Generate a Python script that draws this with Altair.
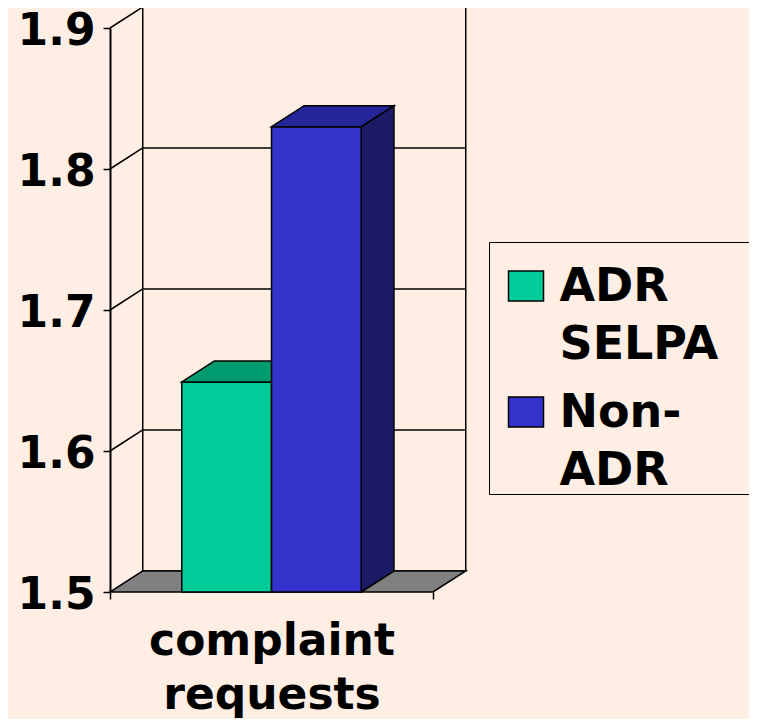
import altair as alt
import pandas as pd

# ---- data ----
categories = ["complaint requests"]
series = ["ADR SELPA", "Non-ADR"]
values = [1.649, 1.830]
y_ticks = [1.5, 1.6, 1.7, 1.8, 1.9]

# ---- styles ----
front_colors = ["#00CC99", "#3333CC"]
top_colors = ["#009B6E", "#25259A"]
side_colors = ["#007A58", "#1C1C66"]
floor_color = "#808080"
bg = "#FFEEE4"
FONT = "DejaVu Sans"

# ---- 3D geometry (in scale units) ----
Y_MIN, Y_MAX = 1.5, 1.9
GAP = 0.8          # gap each side of the bar group, in bar widths
BAR = 1.0
FLOOR = 2 * GAP + BAR * len(series)
DX = 0.365         # depth offset along x (units)
DY = 0.0149        # depth offset along y (value units)
W, H = 323, 564

xs = alt.Scale(domain=[0, FLOOR], nice=False, zero=False)
ys = alt.Scale(domain=[Y_MIN, Y_MAX], nice=False, zero=False)

x_axis = alt.Axis(
    values=[0, FLOOR], labels=False, domain=False, grid=False,
    tickSize=7, tickColor="black", tickWidth=1.5,
    title=categories[0].split(" "), titleFont=FONT, titleFontWeight="bold",
    titleFontSize=44, titleColor="black", titleLineHeight=54, titlePadding=20)
y_axis = alt.Axis(
    values=y_ticks, format=".1f", grid=False, title=None,
    domain=True, domainColor="black", domainWidth=2,
    tickSize=7, tickColor="black", tickWidth=1.5,
    labelFont=FONT, labelFontWeight="bold", labelFontSize=44, labelColor="black",
    labelPadding=8, labelFlush=False, labelOverlap=False, labelOffset=3)


def X(f="x"):
    return alt.X(f + ":Q", scale=xs, axis=x_axis)


def Y(f="y"):
    return alt.Y(f + ":Q", scale=ys, axis=y_axis)


# back wall
wall = pd.DataFrame({"x": [DX], "x2": [FLOOR + DX], "y": [Y_MIN + DY], "y2": [Y_MAX + DY]})
back_wall = alt.Chart(wall).mark_rect(fillOpacity=0, stroke="black", strokeWidth=1.5).encode(
    x=X(), x2="x2:Q", y=Y(), y2="y2:Q")

# gridlines on back wall
grid_back = pd.DataFrame({"y": [v + DY for v in y_ticks[1:-1]]})
grid_back["x"] = DX
grid_back["x2"] = FLOOR + DX
back_grid = alt.Chart(grid_back).mark_rule(color="black", strokeWidth=1.5).encode(
    x=X(), x2="x2:Q", y=Y())

# gridlines on left wall (diagonals)
grid_left = pd.DataFrame({"y": y_ticks[1:], "y2": [v + DY for v in y_ticks[1:]]})
grid_left["x"] = 0.0
grid_left["x2"] = DX
left_grid = alt.Chart(grid_left).mark_rule(color="black", strokeWidth=1.5).encode(
    x=X(), x2="x2:Q", y=Y(), y2="y2:Q")

# floor
floor_df = pd.DataFrame({"y": [Y_MIN, Y_MIN + DY], "x": [0.0, DX], "x2": [FLOOR, FLOOR + DX]})
floor = alt.Chart(floor_df).mark_area(orient="horizontal", color=floor_color,
                                      stroke="black", strokeWidth=1.5, opacity=1).encode(
    y=Y(), x=X(), x2="x2:Q")

color_scale = alt.Scale(domain=series, range=front_colors)
legend = alt.Legend(
    title=None, orient="none", legendX=379, legendY=214, direction="vertical",
    strokeColor="black", padding=0, rowPadding=0,
    symbolType="M-1.1667,0.4H1.1667V2.4H-1.1667Z M14.77,1Z", symbolSize=900,
    symbolStrokeColor="black", symbolStrokeWidth=1.5, symbolOffset=14,
    labelFont=FONT, labelFontWeight="bold", labelFontSize=46, labelColor="black",
    labelBaseline="top", labelOffset=10.5, labelLimit=400,
    labelExpr="datum.label == 'Non-ADR' ? ['Non-', 'ADR'] : split(datum.label, ' ')",
)

bar_layers = []
for i, (s, v) in enumerate(zip(series, values)):
    x0 = GAP + i * BAR
    x1 = x0 + BAR
    side_df = pd.DataFrame({"series": [s, s], "x": [x1, x1 + DX],
                            "y": [Y_MIN, Y_MIN + DY], "y2": [v, v + DY]})
    front_df = pd.DataFrame({"series": [s], "x": [x0], "x2": [x1], "y": [Y_MIN], "y2": [v]})
    top_df = pd.DataFrame({"series": [s, s], "y": [v, v + DY],
                           "x": [x0, x0 + DX], "x2": [x1, x1 + DX]})
    side = alt.Chart(side_df).mark_area(color=side_colors[i], stroke="black",
                                        strokeWidth=1.5, opacity=1).encode(
        x=X(), y=Y(), y2="y2:Q")
    front = alt.Chart(front_df).mark_rect(stroke="black", strokeWidth=1.5, opacity=1).encode(
        x=X(), x2="x2:Q", y=Y(), y2="y2:Q",
        color=alt.Color("series:N", scale=color_scale, legend=legend))
    top = alt.Chart(top_df).mark_area(orient="horizontal", color=top_colors[i], stroke="black",
                                      strokeWidth=1.5, opacity=1).encode(
        y=Y(), x=X(), x2="x2:Q")
    bar_layers += [side, front, top]

chart = alt.layer(back_wall, back_grid, left_grid, floor, *bar_layers).properties(
    width=W, height=H,
    autosize=alt.AutoSizeParams(type="none"),
    padding={"left": 102, "top": 20, "right": 741 - 102 - W, "bottom": 711 - 20 - H},
    background=bg,
).configure(
    font=FONT,
    style={"guide-label": {"lineHeight": 58}},
    view=alt.ViewConfig(strokeWidth=0),
)

chart.save("out.html", embed_options={"renderer": "svg", "actions": False})
